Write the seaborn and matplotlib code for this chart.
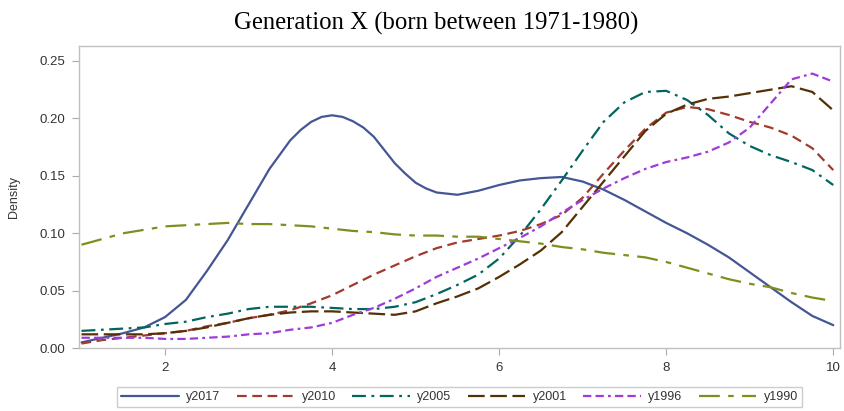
import numpy as np
import pandas as pd
import seaborn as sns
import matplotlib.pyplot as plt
from matplotlib.ticker import FormatStrFormatter

# score grid shared by most cohorts (step 0.25 from 1 to 10)
score = [1.0, 1.25, 1.5, 1.75, 2.0, 2.25, 2.5, 2.75, 3.0, 3.25, 3.5, 3.75,
         4.0, 4.25, 4.5, 4.75, 5.0, 5.25, 5.5, 5.75, 6.0, 6.25, 6.5, 6.75,
         7.0, 7.25, 7.5, 7.75, 8.0, 8.25, 8.5, 8.75, 9.0, 9.25, 9.5, 9.75, 10.0]

# y2017 has a sharper peak, so it is read at a few extra points
score_2017 = [1.0, 1.25, 1.5, 1.75, 2.0, 2.25, 2.5, 2.75, 3.0, 3.25, 3.5, 3.625, 3.75, 3.875,
              4.0, 4.125, 4.25, 4.375, 4.5, 4.75, 4.875, 5.0, 5.125, 5.25, 5.5, 5.75, 6.0, 6.25,
              6.5, 6.75, 7.0, 7.25, 7.5, 7.75, 8.0, 8.25, 8.5, 8.75, 9.0, 9.25, 9.5, 9.75, 10.0]
y2017 = [0.005, 0.009, 0.013, 0.018, 0.027, 0.042, 0.067, 0.094, 0.125, 0.156, 0.181, 0.190, 0.197, 0.2013,
         0.2027, 0.2013, 0.1975, 0.192, 0.184, 0.161, 0.152, 0.144, 0.139, 0.1355, 0.1335, 0.137, 0.142, 0.146,
         0.148, 0.149, 0.145, 0.138, 0.129, 0.119, 0.109, 0.100, 0.090, 0.079, 0.066, 0.053, 0.040, 0.028, 0.020]

y2010 = [0.004, 0.007, 0.009, 0.011, 0.013, 0.015, 0.019, 0.022, 0.026, 0.029, 0.033, 0.039,
         0.046, 0.055, 0.064, 0.072, 0.080, 0.087, 0.092, 0.095, 0.098, 0.102, 0.108, 0.116,
         0.131, 0.152, 0.172, 0.191, 0.205, 0.210, 0.208, 0.203, 0.197, 0.192, 0.185, 0.174, 0.155]
y2005 = [0.015, 0.016, 0.017, 0.018, 0.021, 0.023, 0.027, 0.030, 0.034, 0.036, 0.036, 0.036,
         0.035, 0.034, 0.034, 0.036, 0.040, 0.047, 0.055, 0.064, 0.078, 0.098, 0.121, 0.146,
         0.172, 0.197, 0.214, 0.223, 0.224, 0.216, 0.203, 0.187, 0.176, 0.168, 0.162, 0.155, 0.142]
y2001 = [0.012, 0.012, 0.012, 0.012, 0.013, 0.015, 0.018, 0.022, 0.026, 0.029, 0.031, 0.032,
         0.032, 0.031, 0.030, 0.029, 0.032, 0.039, 0.045, 0.052, 0.062, 0.073, 0.085, 0.101,
         0.123, 0.145, 0.167, 0.189, 0.204, 0.212, 0.217, 0.219, 0.222, 0.225, 0.228, 0.223, 0.207]
y1996 = [0.009, 0.009, 0.009, 0.009, 0.008, 0.008, 0.009, 0.010, 0.012, 0.013, 0.016, 0.018,
         0.022, 0.029, 0.035, 0.043, 0.052, 0.062, 0.070, 0.078, 0.087, 0.096, 0.106, 0.118,
         0.129, 0.139, 0.148, 0.156, 0.162, 0.166, 0.171, 0.179, 0.192, 0.213, 0.234, 0.239, 0.232]
y1990 = [0.090, 0.095, 0.100, 0.103, 0.106, 0.107, 0.108, 0.109, 0.108, 0.108, 0.107, 0.106,
         0.104, 0.102, 0.101, 0.099, 0.098, 0.098, 0.097, 0.097, 0.095, 0.093, 0.091, 0.088,
         0.086, 0.083, 0.081, 0.079, 0.075, 0.070, 0.065, 0.060, 0.056, 0.053, 0.048, 0.044, 0.041]

cohorts = ['y2017', 'y2010', 'y2005', 'y2001', 'y1996', 'y1990']
xs = [score_2017, score, score, score, score, score]
series = [y2017, y2010, y2005, y2001, y1996, y1990]

colors = {'y2017': '#445694', 'y2010': '#A23A2E', 'y2005': '#01665E',
          'y2001': '#543005', 'y1996': '#9D3CDB', 'y1990': '#7F8E1F'}
dashes = {'y2017': '',
          'y2010': (7, 4),
          'y2005': (10, 4, 2, 4),
          'y2001': (12, 4),
          'y1996': (6, 3, 6, 3, 2, 3),
          'y1990': (15, 6, 4, 6)}

frames = [pd.DataFrame({'score': x, 'density': vals, 'cohort': name})
          for name, x, vals in zip(cohorts, xs, series)]
df = pd.concat(frames, ignore_index=True)

sns.set_style('white')
plt.rcParams['font.family'] = ['Liberation Sans', 'DejaVu Sans']
plt.rcParams['lines.scale_dashes'] = False

fig = plt.figure(figsize=(8.45, 4.11), dpi=100)
ax = fig.add_axes([0.0935, 0.153, 0.9005, 0.735])

sns.lineplot(data=df, x='score', y='density', hue='cohort', style='cohort',
             hue_order=cohorts, style_order=cohorts, palette=colors,
             dashes=dashes, linewidth=1.6, ax=ax, legend=True)

ax.set_xlim(0.97, 10.08)
ax.set_ylim(0, 0.263)
ax.set_xticks([2, 4, 6, 8, 10])
ax.set_yticks([0.0, 0.05, 0.10, 0.15, 0.20, 0.25])
ax.yaxis.set_major_formatter(FormatStrFormatter('%.2f'))
ax.set_xlabel('')
ax.set_ylabel('Density', fontsize=9, color='#333333', labelpad=14)
ax.tick_params(axis='both', labelsize=9.5, colors='#333333', length=5, pad=5,
               direction='out', color='#aaaaaa', left=True, bottom=True)
for sp in ax.spines.values():
    sp.set_color('#c0c0c0')
    sp.set_linewidth(1)

handles, labels = ax.get_legend_handles_labels()
ax.get_legend().remove()
fig.legend(handles, labels, loc='center', bbox_to_anchor=(0.544, 0.034),
           ncol=6, fontsize=9, frameon=True, fancybox=False, edgecolor='#c0c0c0',
           handlelength=4.6, handletextpad=0.6, columnspacing=1.3,
           borderpad=0.35, labelcolor='#333333')

fig.text(0.516, 0.943, 'Generation X (born between 1971-1980)', ha='center', va='center',
         fontsize=17.8, family=['Liberation Serif', 'DejaVu Serif'], color='black')

fig.savefig('out.png', dpi=100)
plt.close(fig)
